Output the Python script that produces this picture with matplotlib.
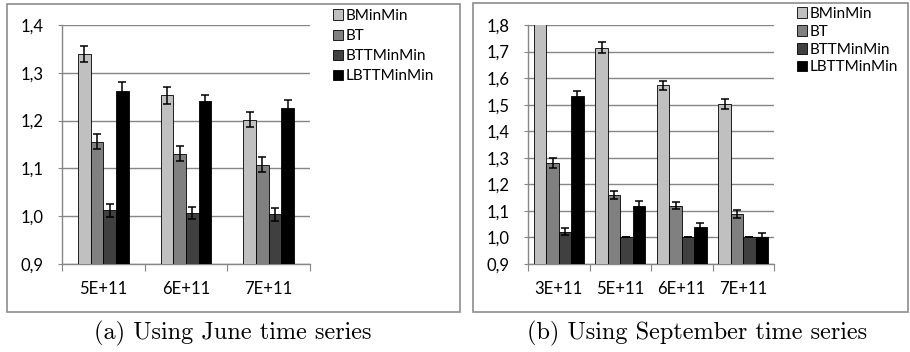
import matplotlib.pyplot as plt
from matplotlib.patches import Rectangle, Patch
from matplotlib.ticker import FuncFormatter

series = ["BMinMin", "BT", "BTTMinMin", "LBTTMinMin"]
colors = ["#c0c0c0", "#808080", "#404040", "#000000"]

# (a) June
june_cats = ["5E+11", "6E+11", "7E+11"]
june_vals = [
    [1.340, 1.253, 1.202],
    [1.156, 1.131, 1.108],
    [1.012, 1.007, 1.004],
    [1.261, 1.241, 1.226],
]
june_err = [
    [0.017, 0.018, 0.015],
    [0.016, 0.015, 0.016],
    [0.013, 0.013, 0.013],
    [0.020, 0.012, 0.017],
]

# (b) September
sep_cats = ["3E+11", "5E+11", "6E+11", "7E+11"]
sep_vals = [
    [1.850, 1.715, 1.573, 1.502],
    [1.280, 1.160, 1.120, 1.090],
    [1.022, 1.000, 1.000, 1.000],
    [1.532, 1.120, 1.040, 1.000],
]
sep_err = [
    [0.020, 0.020, 0.018, 0.018],
    [0.020, 0.015, 0.013, 0.015],
    [0.013, 0.0, 0.0, 0.0],
    [0.018, 0.017, 0.013, 0.015],
]

plt.rcParams['font.family'] = ['Lato', 'DejaVu Sans']

W, H = 910, 352
fig = plt.figure(figsize=(W / 100, H / 100), dpi=100)


def px(x0, y0, x1, y1):
    return [x0 / W, 1 - y1 / H, (x1 - x0) / W, (y1 - y0) / H]


def draw(rect, cats, vals, errs, ymax, yticks, bw):
    ax = fig.add_axes(px(*rect))
    n = len(cats)
    for k, name in enumerate(series):
        xs = [i + 0.5 + (k - 1.5) * bw for i in range(n)]
        ax.bar(xs, vals[k], bw, bottom=0, color=colors[k], edgecolor="#000000",
               linewidth=0.6, label=name, zorder=3)
        ax.errorbar(xs, vals[k], yerr=errs[k], fmt="none", ecolor="black",
                    elinewidth=1.1, capsize=3, capthick=1.1, zorder=4)
    ax.set_xlim(0, n)
    ax.set_ylim(0.9, ymax)
    ax.set_yticks(yticks)
    ax.yaxis.set_major_formatter(FuncFormatter(lambda v, p: f"{v:.1f}".replace(".", ",")))
    ax.set_xticks(range(n + 1))
    ax.set_xticklabels([])
    ax.set_xticks([i + 0.5 for i in range(n)], minor=True)
    ax.set_xticklabels(cats, minor=True)
    ax.tick_params(axis="x", which="minor", length=0, pad=12, labelsize=12)
    ax.tick_params(axis="x", which="major", length=5, color="#868686")
    ax.tick_params(axis="y", length=3, color="#868686", labelsize=12, pad=10)
    ax.grid(axis="y", color="#868686", linewidth=1, zorder=0)
    for s in ["top", "right"]:
        ax.spines[s].set_visible(False)
    for s in ["left", "bottom"]:
        ax.spines[s].set_color("#868686")
        ax.spines[s].set_linewidth(1)
    return ax


draw((62, 25, 310, 264), june_cats, june_vals, june_err, 1.4,
     [0.9, 1.0, 1.1, 1.2, 1.3, 1.4], 0.154)
draw((528, 25, 774, 264), sep_cats, sep_vals, sep_err, 1.8,
     [0.9, 1.0, 1.1, 1.2, 1.3, 1.4, 1.5, 1.6, 1.7, 1.8], 0.203)

handles = [Patch(facecolor=c, edgecolor="#000000", linewidth=0.6) for c in colors]
for (lx, ly, sp) in [(333, 9, 0.4), (797, 7, 0.25)]:
    fig.legend(handles, series, loc="upper left", bbox_to_anchor=(lx / W, 1 - ly / H),
               frameon=False, fontsize=11, handlelength=0.68, handleheight=0.68,
               handletextpad=0.15, labelspacing=sp, borderpad=0, borderaxespad=0)

# panel frames
for (x0, y0, x1, y1) in [(7, 4, 460, 312), (473, 3, 908, 312)]:
    fig.patches.append(Rectangle((x0 / W, 1 - y1 / H), (x1 - x0) / W, (y1 - y0) / H,
                                 transform=fig.transFigure, fill=False,
                                 edgecolor="#8c8c8c", linewidth=1.2))

fig.text(233 / W, 1 - 333 / H, "(a) Using June time series", ha="center", va="center",
         fontsize=17.5, family="cmr10")
fig.text(697 / W, 1 - 333 / H, "(b) Using September time series", ha="center", va="center",
         fontsize=17.5, family="cmr10")

fig.savefig("out.png", dpi=100)
